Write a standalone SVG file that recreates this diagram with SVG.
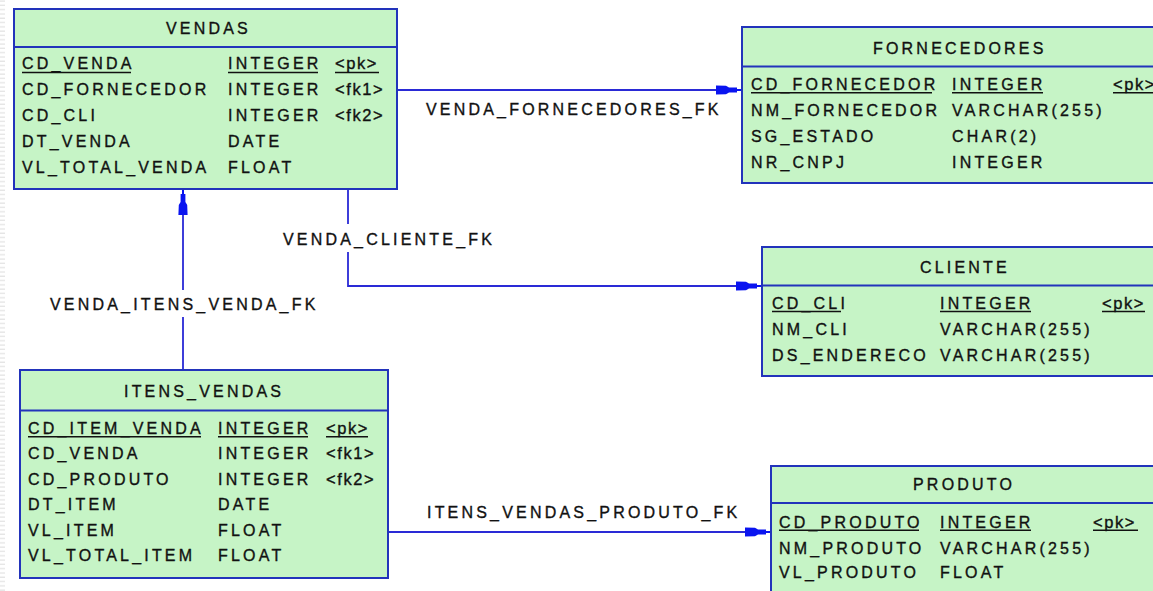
<svg xmlns="http://www.w3.org/2000/svg" width="1153" height="591" viewBox="0 0 1153 591">
  <style>
    .tbl { fill: #c6f4c6; stroke: #2233bb; stroke-width: 2; }
    .sep { stroke: #2233bb; stroke-width: 2; }
    text { font-family: "Liberation Sans", Arial, sans-serif; fill: #111111; stroke: #111111; stroke-width: 0.35; }
    .t { font-size: 16px; letter-spacing: 3.2px; }
    .k { font-size: 16.5px; letter-spacing: 1.6px; }
    .u { stroke: #111111; stroke-width: 1.4; }
    .lbl { font-size: 16px; letter-spacing: 3.2px; }
    .fk { fill: none; stroke: #2a2ad6; stroke-width: 1.8; }
  </style>
  <defs>
    <!-- relationship end: foot drawn back from the referenced table's edge -->
    <marker id="ref" markerUnits="userSpaceOnUse" orient="auto" viewBox="-27 -6 28 12" refX="0" refY="0" markerWidth="28" markerHeight="12" overflow="visible">
      <path d="M0,-1 L-5,-1 L-5,-2.4 L-13,-2.4 L-16,-4.2 L-26,-4.6 L-26,4.6 L-16,4.2 L-13,2.4 L-5,2.4 L-5,1 L0,1 Z" fill="#0a14f0"/>
    </marker>
    <pattern id="ruler" patternUnits="userSpaceOnUse" width="6" height="4.3">
      <line x1="0" y1="1" x2="5" y2="1" stroke="#dcdcdc" stroke-width="1"/>
    </pattern>
  </defs>

  <rect width="1153" height="591" fill="#ffffff"/>
  <rect x="0" y="0" width="6" height="591" fill="url(#ruler)"/>

  <!-- relationships -->
  <g id="connectors">
    <path class="fk" d="M397,90 H742" marker-end="url(#ref)"/>
    <path class="fk" d="M348,189 V224 M348,252 V286 H762" marker-end="url(#ref)"/>
    <path class="fk" d="M183,370 V317 M183,290 V189" marker-end="url(#ref)"/>
    <path class="fk" d="M388,532 H771" marker-end="url(#ref)"/>
    <text class="lbl" x="426" y="115">VENDA_FORNECEDORES_FK</text>
    <text class="lbl" x="283" y="245">VENDA_CLIENTE_FK</text>
    <text class="lbl" x="50" y="310">VENDA_ITENS_VENDA_FK</text>
    <text class="lbl" x="427" y="518">ITENS_VENDAS_PRODUTO_FK</text>
  </g>

  <g id="vendas">
    <rect class="tbl" x="14" y="9" width="383" height="180"/>
    <line class="sep" x1="14" y1="47" x2="397" y2="47"/>
    <text class="t" x="166" y="33.5">VENDAS</text>
    <text class="t" x="22" y="69.3">CD_VENDA</text>
    <text class="t" x="228" y="69.3">INTEGER</text>
    <text class="k" x="335" y="69.3">&lt;pk&gt;</text>
    <line class="u" x1="22" y1="72.5" x2="131" y2="72.5"/>
    <line class="u" x1="228" y1="72.5" x2="318" y2="72.5"/>
    <line class="u" x1="335" y1="72.5" x2="379" y2="72.5"/>
    <text class="t" x="22" y="95.1">CD_FORNECEDOR</text>
    <text class="t" x="228" y="95.1">INTEGER</text>
    <text class="k" x="335" y="95.1">&lt;fk1&gt;</text>
    <text class="t" x="22" y="120.9">CD_CLI</text>
    <text class="t" x="228" y="120.9">INTEGER</text>
    <text class="k" x="335" y="120.9">&lt;fk2&gt;</text>
    <text class="t" x="22" y="146.7">DT_VENDA</text>
    <text class="t" x="228" y="146.7">DATE</text>
    <text class="t" x="22" y="172.5">VL_TOTAL_VENDA</text>
    <text class="t" x="228" y="172.5">FLOAT</text>
  </g>

  <g id="fornecedores">
    <rect class="tbl" x="742" y="27" width="430" height="156"/>
    <line class="sep" x1="742" y1="66.5" x2="1172" y2="66.5"/>
    <text class="t" x="873" y="54">FORNECEDORES</text>
    <text class="t" x="751" y="90">CD_FORNECEDOR</text>
    <text class="t" x="952" y="90">INTEGER</text>
    <text class="k" x="1113" y="90">&lt;pk&gt;</text>
    <line class="u" x1="751" y1="92.7" x2="932" y2="92.7"/>
    <line class="u" x1="952" y1="92.7" x2="1043" y2="92.7"/>
    <line class="u" x1="1113" y1="92.7" x2="1157" y2="92.7"/>
    <text class="t" x="751" y="116">NM_FORNECEDOR</text>
    <text class="t" x="952" y="116">VARCHAR(255)</text>
    <text class="t" x="751" y="141.8">SG_ESTADO</text>
    <text class="t" x="952" y="141.8">CHAR(2)</text>
    <text class="t" x="751" y="167.6">NR_CNPJ</text>
    <text class="t" x="952" y="167.6">INTEGER</text>
  </g>

  <g id="cliente">
    <rect class="tbl" x="762" y="247" width="400" height="129"/>
    <line class="sep" x1="762" y1="285.5" x2="1162" y2="285.5"/>
    <text class="t" x="920" y="272.7">CLIENTE</text>
    <text class="t" x="772" y="309">CD_CLI</text>
    <text class="t" x="940" y="309">INTEGER</text>
    <text class="k" x="1102" y="309">&lt;pk&gt;</text>
    <line class="u" x1="772" y1="311.5" x2="841" y2="311.5"/>
    <line class="u" x1="940" y1="311.5" x2="1031" y2="311.5"/>
    <line class="u" x1="1102" y1="311.5" x2="1145" y2="311.5"/>
    <text class="t" x="772" y="335.3">NM_CLI</text>
    <text class="t" x="940" y="335.3">VARCHAR(255)</text>
    <text class="t" x="772" y="361">DS_ENDERECO</text>
    <text class="t" x="940" y="361">VARCHAR(255)</text>
  </g>

  <g id="itens_vendas">
    <rect class="tbl" x="20" y="370" width="368" height="208"/>
    <line class="sep" x1="20" y1="410.5" x2="388" y2="410.5"/>
    <text class="t" x="124" y="396.7">ITENS_VENDAS</text>
    <text class="t" x="28" y="434">CD_ITEM_VENDA</text>
    <text class="t" x="218" y="434">INTEGER</text>
    <text class="k" x="326" y="434">&lt;pk&gt;</text>
    <line class="u" x1="28" y1="436.7" x2="201" y2="436.7"/>
    <line class="u" x1="218" y1="436.7" x2="308" y2="436.7"/>
    <line class="u" x1="326" y1="436.7" x2="368" y2="436.7"/>
    <text class="t" x="28" y="459.4">CD_VENDA</text>
    <text class="t" x="218" y="459.4">INTEGER</text>
    <text class="k" x="326" y="459.4">&lt;fk1&gt;</text>
    <text class="t" x="28" y="484.8">CD_PRODUTO</text>
    <text class="t" x="218" y="484.8">INTEGER</text>
    <text class="k" x="326" y="484.8">&lt;fk2&gt;</text>
    <text class="t" x="28" y="510.2">DT_ITEM</text>
    <text class="t" x="218" y="510.2">DATE</text>
    <text class="t" x="28" y="535.6">VL_ITEM</text>
    <text class="t" x="218" y="535.6">FLOAT</text>
    <text class="t" x="28" y="561">VL_TOTAL_ITEM</text>
    <text class="t" x="218" y="561">FLOAT</text>
  </g>

  <g id="produto">
    <rect class="tbl" x="771" y="466" width="400" height="140"/>
    <line class="sep" x1="771" y1="503" x2="1171" y2="503"/>
    <text class="t" x="913" y="490">PRODUTO</text>
    <text class="t" x="779" y="527.5">CD_PRODUTO</text>
    <text class="t" x="940" y="527.5">INTEGER</text>
    <text class="k" x="1093" y="527.5">&lt;pk&gt;</text>
    <line class="u" x1="779" y1="530.3" x2="919" y2="530.3"/>
    <line class="u" x1="940" y1="530.3" x2="1031" y2="530.3"/>
    <line class="u" x1="1093" y1="530.3" x2="1138" y2="530.3"/>
    <text class="t" x="779" y="553.5">NM_PRODUTO</text>
    <text class="t" x="940" y="553.5">VARCHAR(255)</text>
    <text class="t" x="779" y="578">VL_PRODUTO</text>
    <text class="t" x="940" y="578">FLOAT</text>
  </g>
</svg>
